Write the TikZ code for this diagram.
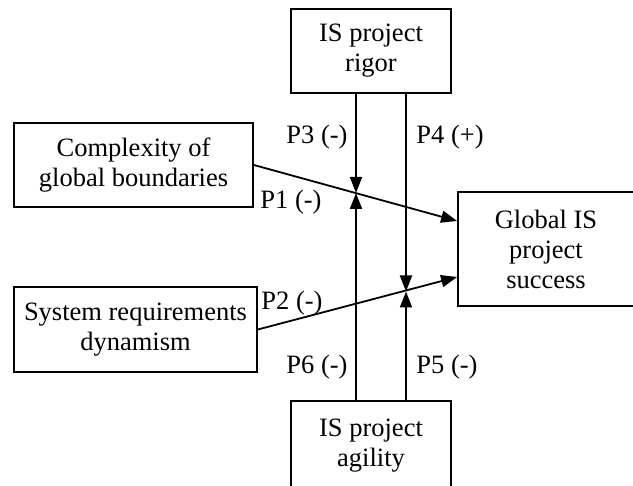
\documentclass[tikz,border=0pt]{standalone}
\usepackage{fontspec}
\setmainfont{Liberation Serif}
\usetikzlibrary{arrows.meta}

\begin{document}
\begin{tikzpicture}[x=1pt,y=-1pt,
        box/.style={draw,line width=1.8pt,align=center,inner sep=0pt,font=\fontsize{26.5}{30}\selectfont},
        arr/.style={line width=1.8pt,-{Triangle[length=16pt,width=12pt]}},
        lbl/.style={font=\fontsize{26.5}{30}\selectfont}]
        \useasboundingbox (0,0) rectangle (633,486);
        \node[box,minimum width=160pt,minimum height=84pt] (rigor) at (371,51) {IS project\\rigor};
        \node[box,minimum width=160pt,minimum height=90pt] (agility) at (371,446) {IS project\\agility};
        \node[box,minimum width=239pt,minimum height=84pt] (cplx) at (133.5,165) {Complexity of\\global boundaries};
        \node[box,minimum width=243pt,minimum height=85pt] (sysreq) at (135.5,329.5) {System requirements\\dynamism};
        \node[box,minimum width=176pt,minimum height=114pt] (success) at (546,249) {Global IS\\project\\success};
        % meeting points of the moderators
        \coordinate (m1) at (356,193);
        \coordinate (m2) at (406,291.5);
        \draw[arr] (cplx.east) -- ([yshift=28pt]success.west);
        \draw[arr] (sysreq.east) -- ([yshift=-28pt]success.west);
        \draw[arr] (rigor.south -| m1) -- (m1);
        \draw[arr] (rigor.south -| m2) -- (m2);
        \draw[arr] (agility.north -| m1) -- (m1);
        \draw[arr] (agility.north -| m2) -- (m2);
        \node[lbl] (p1) at (291,202) {P1 (-)};
        \node[lbl] (p2) at (292,303) {P2 (-)};
        \node[lbl] (p3) at (317,137) {P3 (-)};
        \node[lbl] (p4) at (450,137) {P4 (+)};
        \node[lbl] (p5) at (447,367) {P5 (-)};
        \node[lbl] (p6) at (317,367) {P6 (-)};
    \end{tikzpicture}
\end{document}
